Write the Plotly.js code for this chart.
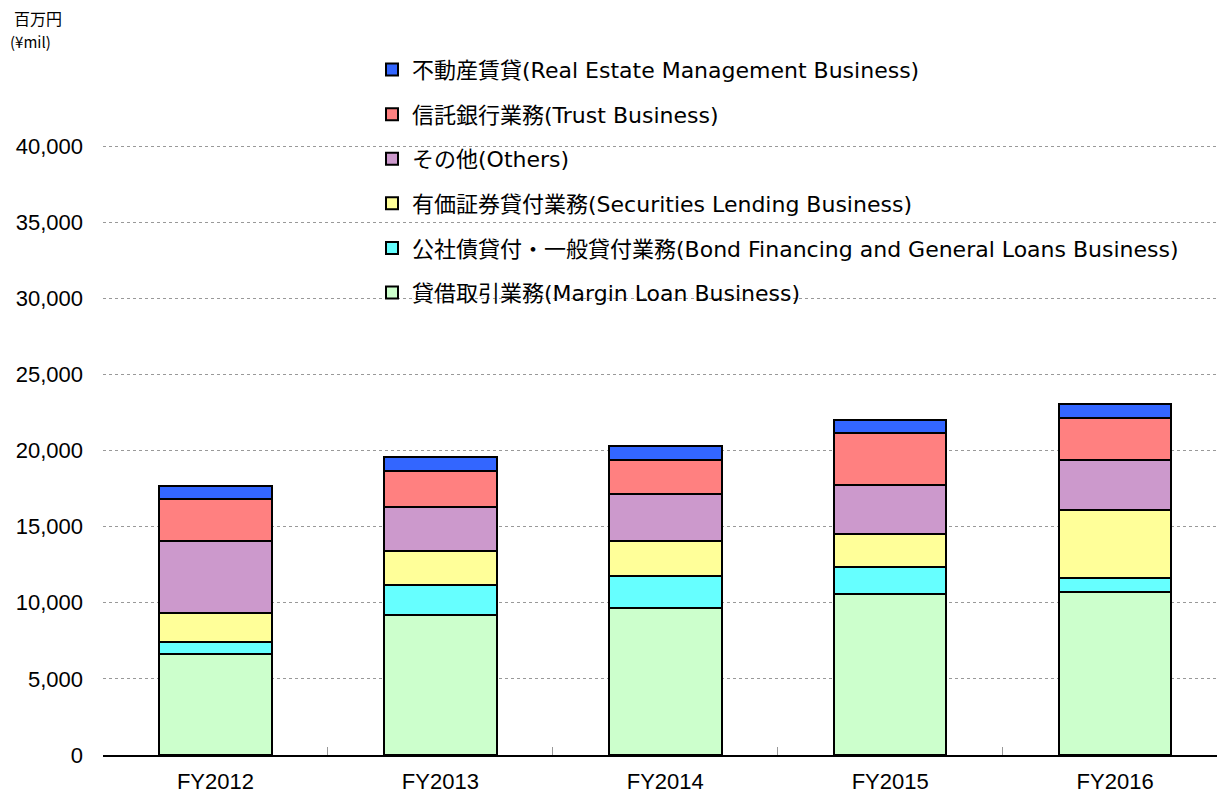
<!DOCTYPE html>
<html>
<head>
<meta charset="utf-8">
<script src="https://cdn.plot.ly/plotly-3.0.1.min.js"></script>
<style>html,body{margin:0;padding:0;background:#fff;}#chart{width:1217px;height:796px;}</style>
</head>
<body>
<div id="chart"></div>
<script>
const categories = ['FY2012', 'FY2013', 'FY2014', 'FY2015', 'FY2016'];
const marginLoan = [6610, 9220, 9640, 10570, 10710];
const bondFinancing = [830, 1930, 2120, 1750, 920];
const securitiesLending = [1870, 2250, 2320, 2230, 4450];
const others = [4770, 2910, 3070, 3190, 3300];
const trustBusiness = [2740, 2350, 2230, 3440, 2780];
const realEstate = [850, 900, 940, 810, 880];
const yTickVals = [0, 5000, 10000, 15000, 20000, 25000, 30000, 35000, 40000];
const yTickText = ['0', '5,000', '10,000', '15,000', '20,000', '25,000', '30,000', '35,000', '40,000'];

const seriesNames = [
  '貸借取引業務(Margin Loan Business)',
  '公社債貸付・一般貸付業務(Bond Financing and General Loans Business)',
  '有価証券貸付業務(Securities Lending Business)',
  'その他(Others)',
  '信託銀行業務(Trust Business)',
  '不動産賃貸(Real Estate Management Business)'
];
const seriesValues = [marginLoan, bondFinancing, securitiesLending, others, trustBusiness, realEstate];
const seriesColors = ['#CCFFCC', '#66FFFF', '#FFFF99', '#CC99CC', '#FF8080', '#3366FF'];

const traces = seriesValues.map((vals, i) => ({
  type: 'bar',
  x: categories,
  y: vals,
  name: seriesNames[i],
  legendgroup: 'g' + i,
  legendrank: 1000 - i,
  width: 0.5,
  marker: {color: seriesColors[i], line: {color: '#000', width: 2}},
  hoverinfo: 'x+y+name'
}));

const layout = {
  width: 1217,
  height: 796,
  barmode: 'stack',
  paper_bgcolor: '#fff',
  plot_bgcolor: '#fff',
  margin: {l: 103, r: 0, t: 70, b: 41},
  font: {family: 'Noto Sans CJK JP, Liberation Sans, sans-serif', color: '#000'},
  showlegend: true,
  legend: {
    traceorder: 'grouped',
    x: 0.2415, xanchor: 'left',
    y: 1.031, yanchor: 'top',
    bgcolor: 'rgba(255,255,255,0)',
    borderwidth: 0,
    font: {size: 22, family: 'DejaVu Sans, Noto Sans CJK JP, sans-serif', color: '#000'},
    tracegroupgap: 13,
    itemwidth: 30
  },
  shapes: [
    {type: 'rect', xref: 'paper', yref: 'paper', layer: 'between',
     x0: 0.2265, x1: 1, y0: 0.655, y1: 1.03,
     fillcolor: '#fff', line: {width: 0}}
  ],
  xaxis: {
    range: [-0.5, 4.453],
    showline: true, linecolor: '#000', linewidth: 2,
    ticks: 'inside', tickson: 'boundaries', ticklen: 8, tickcolor: '#999', tickwidth: 1,
    showgrid: false, zeroline: false,
    ticklabelstandoff: 6,
    tickfont: {family: 'Liberation Sans Narrow, Liberation Sans, sans-serif', size: 22, color: '#000'}
  },
  yaxis: {
    range: [0, 45000],
    tickvals: yTickVals, ticktext: yTickText,
    showline: false, zeroline: false,
    showgrid: true, gridcolor: '#999', griddash: 'dot', gridwidth: 1,
    ticks: '', ticklabelstandoff: 19,
    tickfont: {family: 'Liberation Sans, Arial, sans-serif', size: 22, color: '#000'}
  },
  annotations: [
    {xref: 'paper', yref: 'paper', x: -0.082, y: 1.076, xanchor: 'left', yanchor: 'middle', showarrow: false,
     text: '百万円', font: {size: 16, family: 'Noto Sans CJK JP, sans-serif', color: '#000'}},
    {xref: 'paper', yref: 'paper', x: -0.085, y: 1.041, xanchor: 'left', yanchor: 'middle', showarrow: false,
     text: '(¥mil)', font: {size: 15, family: 'Noto Sans CJK JP, sans-serif', color: '#000'}}
  ]
};

Plotly.newPlot('chart', traces, layout, {displayModeBar: false, responsive: false});
</script>
</body>
</html>
